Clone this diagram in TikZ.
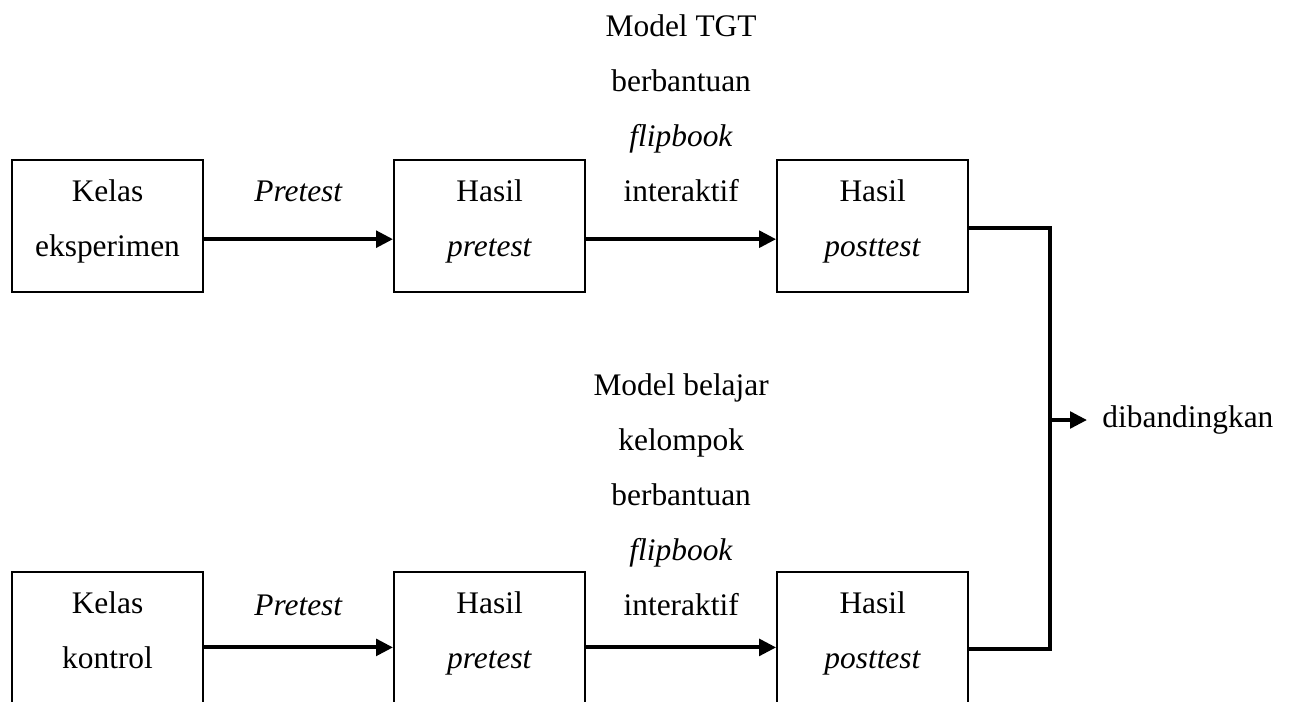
\documentclass[tikz,border=0pt]{standalone}
\usepackage{fontspec}
\setmainfont{Liberation Serif}
\usetikzlibrary{positioning,arrows.meta}

\tikzset{
  kotak/.style={draw, line width=0.8pt, minimum width=73pt, minimum height=50.5pt,
    align=center, text height=29.2pt, text depth=6.2pt,
    font=\fontsize{12}{21}\selectfont},
  ket/.style={align=center, inner sep=0pt, font=\fontsize{12}{21}\selectfont},
  panah/.style={line width=1.5pt, -{Triangle[length=6.5pt,width=6.3pt]}},
  garis/.style={line width=1.5pt}
}

\begin{document}
\begin{tikzpicture}
\useasboundingbox (0,0) rectangle (494.5pt,-268.2pt);

% baris kelas eksperimen
\node[kotak] (ke) at (41.1pt,-86.4pt) {Kelas\\eksperimen};
\node[kotak, right=72.2pt of ke] (hpre1) {Hasil\\\textit{pretest}};
\node[kotak, right=72.6pt of hpre1] (hpost1) {Hasil\\\textit{posttest}};

% baris kelas kontrol
\node[kotak, below=106.2pt of ke] (kk) {Kelas\\kontrol};
\node[kotak, right=72.2pt of kk] (hpre2) {Hasil\\\textit{pretest}};
\node[kotak, right=72.6pt of hpre2] (hpost2) {Hasil\\\textit{posttest}};

\draw[panah] ([yshift=-5pt]ke.east) -- ([yshift=-5pt]hpre1.west)
    node[ket, midway, above=13.4pt] {\textit{Pretest}};
\draw[panah] ([yshift=-5pt]hpre1.east) -- ([yshift=-5pt]hpost1.west)
    node[ket, midway, above=13.6pt] {Model TGT\\berbantuan\\\textit{flipbook}\\interaktif};

\draw[panah] ([yshift=-3.5pt]kk.east) -- ([yshift=-3.5pt]hpre2.west)
    node[ket, midway, above=11.2pt] {\textit{Pretest}};
\draw[panah] ([yshift=-3.5pt]hpre2.east) -- ([yshift=-3.5pt]hpost2.west)
    node[ket, midway, above=11.4pt] {Model belajar\\kelompok\\berbantuan\\\textit{flipbook}\\interaktif};

% kedua hasil posttest dibandingkan
\coordinate (temu) at (401.2pt,-160.5pt);
\draw[garis] ([yshift=-0.7pt]hpost1.east) -| (temu) |- ([yshift=-4.2pt]hpost2.east);
\node[ket, inner xsep=5.7pt, right=14.2pt of temu] (banding) {dibandingkan};
\draw[panah] (temu) -- (banding.west);
\end{tikzpicture}
\end{document}
